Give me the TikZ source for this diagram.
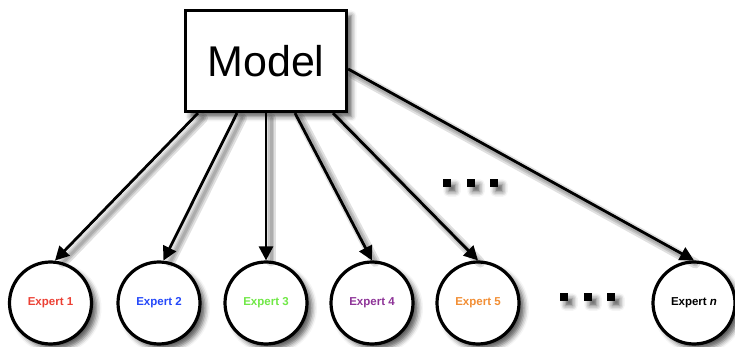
\documentclass[tikz,border=0pt]{standalone}
\usepackage{fontspec}
\setmainfont{Liberation Sans}
\usetikzlibrary{arrows.meta,shadows.blur}

\definecolor{ered}{RGB}{236,64,52}
\definecolor{eblue}{RGB}{36,72,250}
\definecolor{egreen}{RGB}{112,232,70}
\definecolor{epurple}{RGB}{142,52,152}
\definecolor{eorange}{RGB}{242,142,52}

\tikzset{
  softshadow/.style={blur shadow={shadow xshift=5pt, shadow yshift=-5pt,
      shadow blur radius=5pt, shadow opacity=65}},
  modelbox/.style={draw, line width=3.2pt, fill=white, minimum width=161pt,
      minimum height=101pt, inner sep=0pt,
      font=\fontsize{43}{50}\selectfont, softshadow},
  expert/.style={circle, draw, line width=3.2pt, fill=white, minimum size=82pt,
      inner sep=0pt, font=\fontsize{11.5}{13}\selectfont\bfseries, softshadow},
  link/.style={line width=2.8pt, -{Triangle[length=14pt,width=14pt]}},
  linkshade/.style={line width=#1, draw=black, opacity=0.12, line cap=round,
      shorten >=4pt, transform canvas={shift={(5pt,-5pt)}}},
  sq/.style={fill=black, minimum size=7.5pt, inner sep=0pt, softshadow},
}

\begin{document}
\begin{tikzpicture}[x=1pt, y=-1pt]
  \useasboundingbox (0,0) rectangle (735,347);

  % the model and the experts
  \node[modelbox] (m) at (266,61) {Model};
  \node[expert, text=ered]    (e1) at (50.5,303) {Expert 1};
  \node[expert, text=eblue]   (e2) at (159,303)  {Expert 2};
  \node[expert, text=egreen]  (e3) at (266,303)  {Expert 3};
  \node[expert, text=epurple] (e4) at (372,303)  {Expert 4};
  \node[expert, text=eorange] (e5) at (478,303)  {Expert 5};
  \node[expert]               (en) at (694,303)  {Expert {\itshape n}};

  % start points of the links on the model box
  \coordinate (s1) at ([xshift=-68pt]m.south);
  \coordinate (s2) at ([xshift=-29pt]m.south);
  \coordinate (s3) at (m.south);
  \coordinate (s4) at ([xshift=29pt]m.south);
  \coordinate (s5) at ([xshift=67pt]m.south);
  \coordinate (sn) at ([yshift=-8pt]m.east);

  % soft shadows under the links
  \foreach \a/\b in {s1/e1.84, s2/e2.84, s3/e3.north, s4/e4.north, s5/e5.north, sn/en.north}{
    \draw[linkshade=10pt] (\a) -- (\b);
    \draw[linkshade=6pt] (\a) -- (\b);
    \draw[linkshade=3pt] (\a) -- (\b);
  }

  % links
  \foreach \a/\b in {s1/e1.84, s2/e2.84, s3/e3.north, s4/e4.north, s5/e5.north, sn/en.north}{
    \draw[link] (\a) -- (\b);
  }

  % ellipsis between the links
  \node[sq] (u1) at (447,183) {};
  \node[sq] (u2) at (471,183) {};
  \node[sq] (u3) at (494,183) {};

  % ellipsis between the experts
  \node[sq] (l1) at (564,297) {};
  \node[sq] (l2) at (588,297) {};
  \node[sq] (l3) at (611,297) {};
\end{tikzpicture}
\end{document}
